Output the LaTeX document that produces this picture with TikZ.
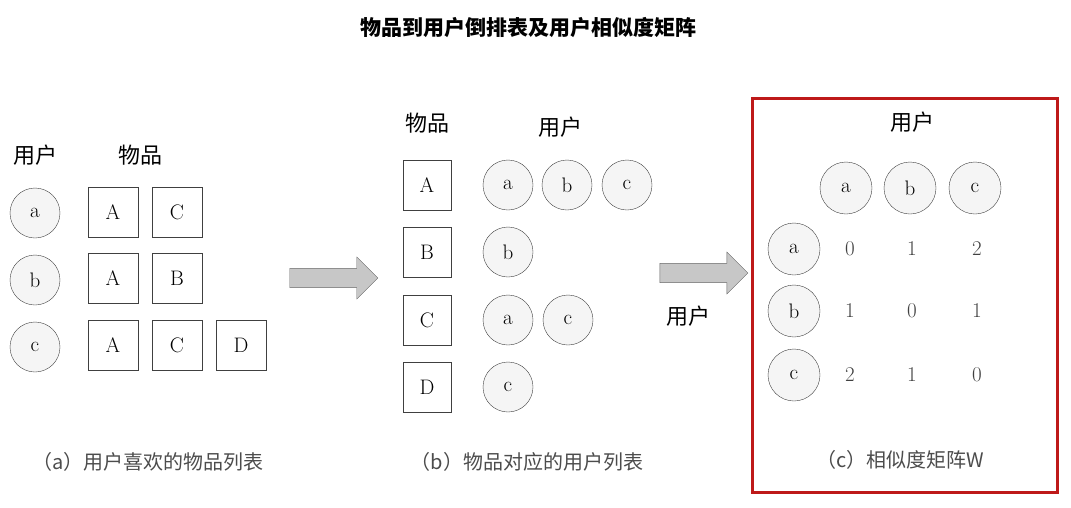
\documentclass[tikz,border=0pt]{standalone}
\usepackage{fontspec}
\newfontfamily\cjk{Noto Sans CJK SC}
\usetikzlibrary{shapes.arrows}
\definecolor{boxred}{RGB}{190,25,25}
\tikzset{
 usr/.style={circle,draw=black!75,fill=black!4,minimum size=50pt,inner sep=0pt,font=\fontsize{21}{21}\selectfont},
 itm/.style={rectangle,draw=black!75,fill=white,minimum width=50pt,minimum height=50pt,inner sep=0pt,font=\fontsize{21}{21}\selectfont},
 lbl/.style={font=\cjk\fontsize{22}{22}\selectfont},
 num/.style={font=\fontsize{21}{21}\selectfont,text=black!75},
 captxt/.style={font=\cjk\fontsize{20}{20}\selectfont,text=black!70},
 bigarrow/.style={single arrow,draw=black!60,fill=black!22,minimum height=88pt,minimum width=42pt,single arrow head extend=5pt,inner sep=4pt}
}
\begin{document}
\begin{tikzpicture}[x=1pt,y=-1pt]
\useasboundingbox (0,0) rectangle (1071,507);
\node[font=\cjk\bfseries\fontsize{21}{21}\selectfont] (title) at (528,28) {物品到用户倒排表及用户相似度矩阵};
% panel a
\node[lbl] (ua) at (35,155) {用户};
\node[lbl] (ia) at (140,155) {物品};
\node[usr] (a1) at (35,213) {a};
\node[usr] (a2) at (35,280) {b};
\node[usr] (a3) at (35,347) {c};
\node[itm] (aA1) at (113,212) {A};
\node[itm] (aC1) at (177,212) {C};
\node[itm] (aA2) at (113,278) {A};
\node[itm] (aB2) at (177,278) {B};
\node[itm] (aA3) at (113,345) {A};
\node[itm] (aC3) at (177,345) {C};
\node[itm] (aD3) at (241,345) {D};
\node[captxt] (capa) at (148,462) {（a）用户喜欢的物品列表};
\node[bigarrow] (arr1) at (329,278) {};
% panel b
\node[lbl] (ib) at (427,123) {物品};
\node[lbl] (ub) at (560,127) {用户};
\node[itm,minimum width=48pt] (bA) at (427,185) {A};
\node[itm,minimum width=48pt] (bB) at (427,252) {B};
\node[itm,minimum width=48pt] (bC) at (427,320) {C};
\node[itm,minimum width=48pt] (bD) at (427,387) {D};
\node[usr] (b1) at (508,185) {a};
\node[usr] (b2) at (567,185) {b};
\node[usr] (b3) at (627,185) {c};
\node[usr] (b4) at (508,252) {b};
\node[usr] (b5) at (508,320) {a};
\node[usr] (b6) at (568,320) {c};
\node[usr] (b7) at (508,387) {c};
\node[captxt] (capb) at (527,462) {（b）物品对应的用户列表};
\node[bigarrow] (arr2) at (699,273) {};
\node[lbl] (u2) at (688,316) {用户};
% panel c
\draw[boxred,line width=3pt] (752,98) rectangle (1057,492);
\node[lbl] (uc) at (912,122) {用户};
\node[usr,minimum size=52pt] (ca) at (846,188) {a};
\node[usr,minimum size=52pt] (cb) at (910,188) {b};
\node[usr,minimum size=52pt] (cc) at (975,188) {c};
\node[usr,minimum size=52pt] (ra) at (794,249) {a};
\node[usr,minimum size=52pt] (rb) at (794,311) {b};
\node[usr,minimum size=52pt] (rc) at (794,375) {c};
\node[num] (m11) at (850,249) {0};
\node[num] (m12) at (912,249) {1};
\node[num] (m13) at (977,249) {2};
\node[num] (m21) at (850,311) {1};
\node[num] (m22) at (912,311) {0};
\node[num] (m23) at (977,311) {1};
\node[num] (m31) at (850,375) {2};
\node[num] (m32) at (912,375) {1};
\node[num] (m33) at (977,375) {0};
\node[captxt] (capc) at (900,460) {（c）相似度矩阵W};
\end{tikzpicture}
\end{document}
